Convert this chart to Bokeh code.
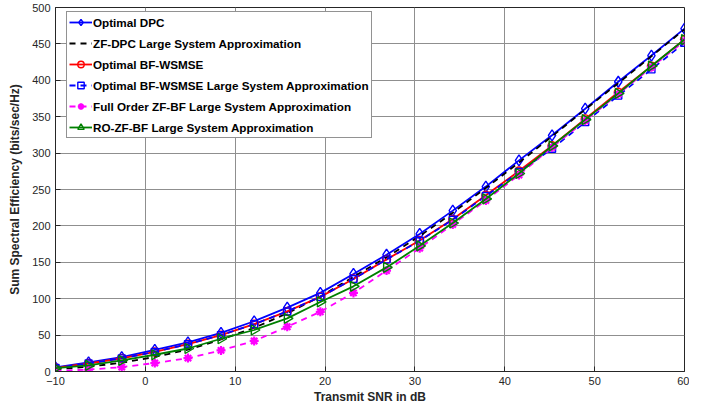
import numpy as np
from bokeh.plotting import figure
from bokeh.models import Legend, LegendItem, FixedTicker, Range1d
from bokeh.embed import file_html
from bokeh.resources import INLINE

# ---- data ----
snr_db = [-10, -6.32, -2.63, 1.05, 4.74, 8.42, 12.11, 15.79, 19.47, 23.16,
          26.84, 30.53, 34.21, 37.89, 41.58, 45.26, 48.95, 52.63, 56.32, 60]

optimal_dpc = [5.7, 12.5, 19.7, 29.8, 40, 53, 69, 87.8, 108, 134,
               160.4, 189, 221, 254, 290, 324.5, 361, 398, 434, 471]
zf_dpc_lsa = [3, 6.5, 12, 20, 30, 44, 60, 80, 103, 130,
              157, 186, 218, 252, 287, 323, 360, 396, 433, 470]
optimal_bf_wsmse = [5, 11, 18, 27, 37.5, 50, 65, 82.5, 102.5, 127,
                    154, 180, 209, 242, 275.5, 310, 347, 383.5, 419.5, 456]
bf_wsmse_lsa = [5, 11, 18, 27, 37.5, 50, 65, 82.5, 102.5, 127,
                154, 179.5, 208.5, 241, 274, 306, 342.5, 379, 415, 451.5]
full_zf_bf_lsa = [1, 2.6, 6, 11.6, 18.4, 29, 42, 61.5, 82, 108,
                  138.6, 169.4, 202, 235, 270, 308, 344.5, 381, 418, 454]
ro_zf_bf_lsa = [4.5, 8.4, 15.2, 23, 31.6, 45, 57, 73, 95.5, 117,
                143, 172.6, 204, 237, 272, 310, 346, 382, 419.7, 456]

x_ticks = [-10, 0, 10, 20, 30, 40, 50, 60]
y_ticks = [0, 50, 100, 150, 200, 250, 300, 350, 400, 450, 500]

labels = ["Optimal DPC",
          "ZF-DPC Large System Approximation",
          "Optimal BF-WSMSE",
          "Optimal BF-WSMSE Large System Approximation",
          "Full Order ZF-BF Large System Approximation",
          "RO-ZF-BF Large System Approximation"]

FONT = "Liberation Sans"
TXT = "#262626"
FRAME_H = 364

p = figure(frame_width=629, frame_height=FRAME_H,
           min_border_left=55, min_border_right=5,
           min_border_top=7, min_border_bottom=31,
           x_range=Range1d(-10, 60), y_range=Range1d(0, 500),
           output_backend="svg", toolbar_location=None)

p.background_fill_color = "white"
p.border_fill_color = "white"
p.outline_line_color = TXT
p.outline_line_width = 1

for ax in (p.xaxis[0], p.yaxis[0]):
    ax.major_tick_in = 5
    ax.major_tick_out = 0
    ax.minor_tick_in = 0
    ax.minor_tick_out = 0
    ax.axis_line_color = TXT
    ax.major_tick_line_color = TXT
    ax.major_label_text_font = FONT
    ax.major_label_text_font_size = "11px"
    ax.major_label_text_color = TXT
    ax.axis_label_text_font = FONT
    ax.axis_label_text_font_size = "12px"
    ax.axis_label_text_font_style = "bold"
    ax.axis_label_text_color = TXT

p.xaxis.ticker = FixedTicker(ticks=x_ticks)
p.yaxis.ticker = FixedTicker(ticks=y_ticks)
p.xaxis.axis_label = "Transmit SNR in dB"
p.yaxis.axis_label = "Sum Spectral Efficiency (bits/sec/Hz)"
p.xaxis.major_label_standoff = 5
p.xaxis.axis_label_standoff = 2
p.yaxis.major_label_standoff = 5
p.yaxis.axis_label_standoff = 7

p.grid.grid_line_color = "#8f8f8f"
p.grid.grid_line_width = 1

LW = 1.8
items = []

# Optimal DPC
l1 = p.line(snr_db, optimal_dpc, line_color="#0000ff", line_width=LW)
s1 = p.scatter(snr_db, optimal_dpc, marker="diamond", size=11,
               line_color="#0000ff", fill_color=None, line_width=1.4)
items.append(LegendItem(label=labels[0], renderers=[l1, s1]))

# ZF-DPC LSA
l2 = p.line(snr_db, zf_dpc_lsa, line_color="black", line_width=LW, line_dash="6 5")
items.append(LegendItem(label=labels[1], renderers=[l2]))

# Optimal BF-WSMSE
l3 = p.line(snr_db, optimal_bf_wsmse, line_color="#ff0000", line_width=LW)
s3 = p.scatter(snr_db, optimal_bf_wsmse, marker="circle", size=8,
               line_color="#ff0000", fill_color=None, line_width=1.4)
items.append(LegendItem(label=labels[2], renderers=[l3, s3]))

# Optimal BF-WSMSE LSA
l4 = p.line(snr_db, bf_wsmse_lsa, line_color="#0000ff", line_width=LW, line_dash="6 5")
s4 = p.scatter(snr_db, bf_wsmse_lsa, marker="square", size=7,
               line_color="#0000ff", fill_color=None, line_width=1.4)
items.append(LegendItem(label=labels[3], renderers=[l4, s4]))

# Full order ZF-BF LSA
l5 = p.line(snr_db, full_zf_bf_lsa, line_color="#ff00ff", line_width=LW, line_dash="6 5")
s5 = p.scatter(snr_db, full_zf_bf_lsa, marker="asterisk", size=9,
               line_color="#ff00ff", line_width=2.2)
items.append(LegendItem(label=labels[4], renderers=[l5, s5]))

# RO-ZF-BF LSA
l6 = p.line(snr_db, ro_zf_bf_lsa, line_color="#008000", line_width=LW)
s6 = p.scatter(snr_db, ro_zf_bf_lsa, marker="triangle", size=10, angle=-np.pi / 2,
               line_color="#008000", fill_color=None, line_width=1.4)
items.append(LegendItem(label=labels[5], renderers=[l6, s6]))

# legend: top-left corner near frame (x offset 11, top 6 px below frame top)
PAD, GH, SP = 2, 16, 5
legend_h = 2 * PAD + 6 * GH + 5 * SP
legend = Legend(items=items, location=(11, FRAME_H - 6 - legend_h))
legend.label_text_font = FONT
legend.label_text_font_size = "11.7px"
legend.label_text_font_style = "bold"
legend.label_text_color = "black"
legend.glyph_width = 23
legend.glyph_height = GH
legend.label_height = GH
legend.label_standoff = 1
legend.spacing = SP
legend.padding = PAD
legend.margin = 0
legend.border_line_color = TXT
legend.border_line_width = 1
legend.background_fill_color = "white"
legend.background_fill_alpha = 1.0
p.add_layout(legend, "center")

open("out.html", "w").write(file_html(p, INLINE))
